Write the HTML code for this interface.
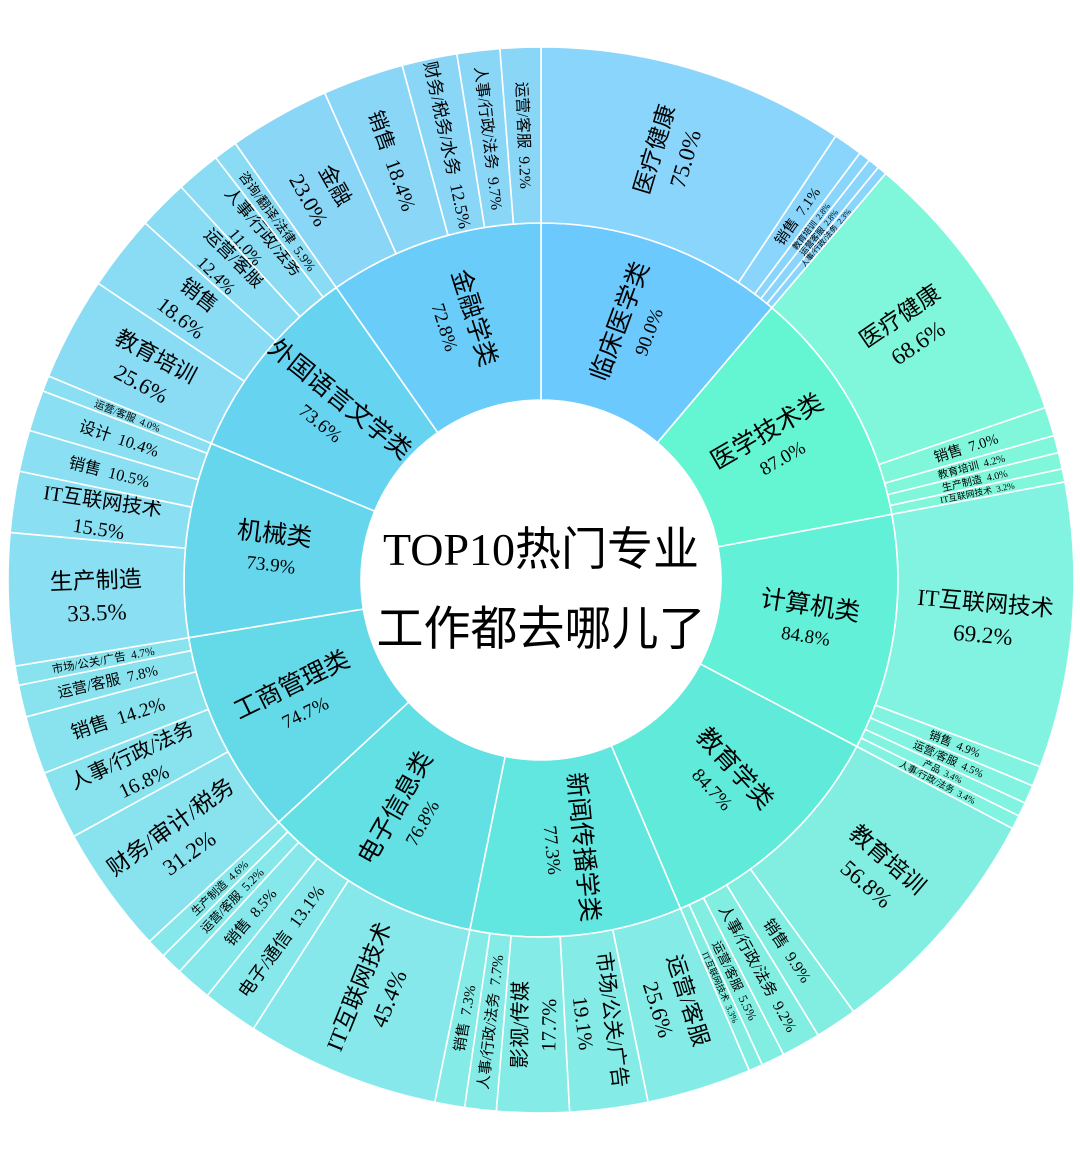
<!DOCTYPE html>
<html><head><meta charset="utf-8">
<style>
html,body{margin:0;padding:0;background:#fff;}
svg{display:block;}
text{font-family:"Liberation Serif","Noto Sans CJK SC",sans-serif;fill:#000;}
</style></head>
<body>
<svg id="s" width="1080" height="1158" viewBox="0 0 1080 1158" xmlns="http://www.w3.org/2000/svg">
<g id="g"></g>
<circle cx="541" cy="580" r="180" fill="#fff"/>
<text x="541" y="565" text-anchor="middle" style="font-size:46px">TOP10热门专业</text>
<text x="541" y="645" text-anchor="middle" style="font-size:47px;font-family:'Noto Sans CJK SC',sans-serif">工作都去哪儿了</text>
</svg>
<script>
var cx=541,cy=580,r0=180,r1=357,r2=533;
var cats=[
["临床医学类","90.0%",0,40.3,"#6CC9FE","#8AD5FC",[["医疗健康",75.0],["销售",7.1],["教育培训",2.8],["运营客服",2.8],["人事/行政/法务",2.3]]],
["医学技术类","87.0%",40.3,79.4,"#64F5D2","#80F7DA",[["医疗健康",68.6],["销售",7.0],["教育培训",4.2],["生产制造",4.0],["IT互联网技术",3.2]]],
["计算机类","84.8%",79.4,117.8,"#62F0D8","#82F3E0",[["IT互联网技术",69.2],["销售",4.9],["运营/客服",4.5],["产品",3.4],["人事/行政/法务",3.4]]],
["教育学类","84.7%",117.8,157,"#60EADA","#82EEE2",[["教育培训",56.8],["销售",9.9],["人事/行政/法务",9.2],["运营/客服",5.5],["IT互联网技术",3.3]]],
["新闻传播学类","77.3%",157,191.5,"#62E6E0","#84EBE6",[["运营/客服",25.6],["市场/公关/广告",19.1],["影视/传媒",17.7],["人事/行政/法务",7.7],["销售",7.3]]],
["电子信息类","76.8%",191.5,227.3,"#62E0E4","#86E8EA",[["IT互联网技术",45.4],["电子/通信",13.1],["销售",8.5],["运营/客服",5.2],["生产制造",4.6]]],
["工商管理类","74.7%",227.3,260.7,"#64DAE8","#88E3EE",[["财务/审计/税务",31.2],["人事/行政/法务",16.8],["销售",14.2],["运营/客服",7.8],["市场/公关/广告",4.7]]],
["机械类","73.9%",260.7,292.5,"#66D6EC","#8AE0F2",[["生产制造",33.5],["IT互联网技术",15.5],["销售",10.5],["设计",10.4],["运营/客服",4.0]]],
["外国语言文学类","73.6%",292.5,325,"#66D3F1","#8ADCF5",[["教育培训",25.6],["销售",18.6],["运营/客服",12.4,2],["人事/行政/法务",11.0,2],["咨询/翻译/法律",5.9]]],
["金融学类","72.8%",325,360,"#6ACDF9","#8AD6F7",[["金融",23.0],["销售",18.4,1],["财务/税务/水务",12.5],["人事/行政/法务",9.7],["运营/客服",9.2]]]
];
var g=document.getElementById('g'),NS="http://www.w3.org/2000/svg";
function pt(r,a){a=a*Math.PI/180;return [cx+r*Math.sin(a),cy-r*Math.cos(a)];}
function arc(ra,rb,a1,a2,fill){
 var p1=pt(rb,a1),p2=pt(rb,a2),p3=pt(ra,a2),p4=pt(ra,a1),l=(a2-a1)>180?1:0;
 var d="M"+p1+" A"+rb+","+rb+" 0 "+l+" 1 "+p2+" L"+p3+" A"+ra+","+ra+" 0 "+l+" 0 "+p4+"Z";
 var e=document.createElementNS(NS,"path");e.setAttribute("d",d);e.setAttribute("fill",fill);
 e.setAttribute("stroke","#fff");e.setAttribute("stroke-width","1.6");g.appendChild(e);}
function label(r,a,lines,sizes,gap){
 var p=pt(r,a),rot=a<=180?a-90:a-270;
 var t=document.createElementNS(NS,"text");
 t.setAttribute("transform","translate("+p[0].toFixed(1)+","+p[1].toFixed(1)+") rotate("+rot.toFixed(1)+")");
 t.setAttribute("text-anchor","middle");
 var n=lines.length,y0=-(n-1)*gap/2;
 for(var i=0;i<n;i++){var ts=document.createElementNS(NS,"tspan");ts.setAttribute("x",0);
  ts.setAttribute("y",(y0+i*gap+sizes[i]*0.35).toFixed(1));ts.setAttribute("style","font-size:"+sizes[i]+"px");
  ts.textContent=lines[i];t.appendChild(ts);}
 g.appendChild(t);}
var P=[[2.3,8],[3.3,9],[4.5,11],[5,12],[7,14.5],[10,16],[13,18],[15,20],[25,22],[33,23]];
function sz(v){if(v<=P[0][0])return P[0][1];for(var i=1;i<P.length;i++){if(v<=P[i][0]){var a=P[i-1],b=P[i];return +(a[1]+(b[1]-a[1])*(v-a[0])/(b[0]-a[0])).toFixed(1);}}return 23;}
cats.forEach(function(c){
 arc(r0,r1,c[2],c[3],c[4]);
 var sum=0;c[6].forEach(function(s){sum+=s[1];});
 var a=c[2],span=c[3]-c[2];
 c[6].forEach(function(s){
  var w=span*s[1]/sum;arc(r1,r2,a,a+w,c[5]);
  var m=a+w/2,f=sz(s[1]),pct=s[1].toFixed(1)+"%";
  var two=(s[2]===2)||(s[1]>=15&&s[2]!==1);
  if(two) label(445,m,[s[0],pct],[f,f],f*1.4);
  else label(445,m,[s[0]+"\u00a0\u00a0"+pct],[f],0);
  a+=w;});
 label(270,(c[2]+c[3])/2,[c[0],c[1]],[25,19],31);
});
</script>
</body></html>
